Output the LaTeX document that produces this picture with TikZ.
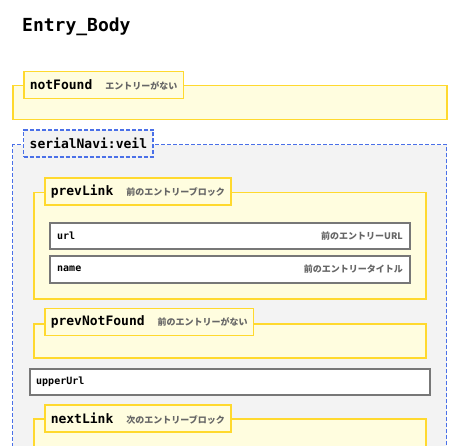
\documentclass[tikz,border=0pt]{standalone}
\usepackage{fontspec}
\setmonofont{DejaVu Sans Mono}
\newfontfamily\cjk{Noto Sans CJK JP}
\definecolor{blockline}{HTML}{FFD92E}
\definecolor{blockfill}{HTML}{FFFDDF}
\definecolor{veilfill}{HTML}{F3F3F3}
\definecolor{veilline}{HTML}{4A70E8}
\definecolor{fieldline}{HTML}{777777}
\definecolor{notegray}{HTML}{666666}
\newcommand{\jpnote}[1]{\hspace{13pt}{\cjk\bfseries\fontsize{9}{9}\selectfont\color{notegray}#1}}

\begin{document}
\begin{tikzpicture}[x=1pt,y=-1pt]
        \tikzstyle{every node}=[font=\ttfamily\bfseries]
        \tikzstyle{block}=[draw=blockline, fill=blockfill, line width=1.5pt, anchor=north west, inner sep=0pt]
        \tikzstyle{veil}=[draw=veilline, fill=veilfill, line width=1.4pt, dash pattern=on 4pt off 2pt, anchor=north west, inner sep=0pt]
        \tikzstyle{tag}=[block, anchor=west, inner xsep=6pt, inner ysep=0pt, minimum height=27pt, font=\ttfamily\bfseries\fontsize{13}{13}\selectfont]
        \tikzstyle{veiltag}=[veil, anchor=west, inner xsep=6pt, inner ysep=0pt, minimum height=27pt, font=\ttfamily\bfseries\fontsize{13}{13}\selectfont]
        \tikzstyle{field}=[draw=fieldline, fill=white, line width=2pt, anchor=north west, inner sep=0pt, minimum height=26pt]
        \tikzstyle{fieldname}=[anchor=west, inner sep=0pt, font=\ttfamily\bfseries\fontsize{10}{10}\selectfont]
        \tikzstyle{fieldnote}=[anchor=east, inner sep=0pt, text=notegray, font=\cjk\bfseries\fontsize{9}{9}\selectfont]

        \useasboundingbox (0,0) rectangle (460,446);
        \clip (0,0) rectangle (460,446);

        \node[anchor=base west, inner sep=0pt, font=\ttfamily\bfseries\fontsize{18}{18}\selectfont] (title) at (22,31.5) {Entry\_Body};

        \node[block, minimum width=434pt, minimum height=34pt] (notFoundBox) at (12,85) {};
        \node[tag] (notFound) at (23,85) {notFound\jpnote{エントリーがない}};

        \node[veil, minimum width=434pt, minimum height=340pt] (veilBox) at (12,144) {};
        \node[veiltag] (veil) at (23,143.5) {serialNavi:veil};

        \node[block, minimum width=392pt, minimum height=106pt] (prevLinkBox) at (33,192) {};
        \node[tag] (prevLink) at (44,191.5) {prevLink\jpnote{前のエントリーブロック}};
        \node[field, minimum width=360pt] (url) at (49,222) {};
        \node[fieldname] (urlName) at ([xshift=8pt]url.west) {url};
        \node[fieldnote] (urlNote) at ([xshift=-8pt]url.east) {前のエントリーURL};
        \node[field, minimum width=360pt, minimum height=27pt] (name) at (49,254.5) {};
        \node[fieldname] (nameName) at ([xshift=8pt]name.west) {name};
        \node[fieldnote] (nameNote) at ([xshift=-8pt]name.east) {前のエントリータイトル};

        \node[block, minimum width=392pt, minimum height=34pt] (prevNotFoundBox) at (33,323) {};
        \node[tag] (prevNotFound) at (44,322) {prevNotFound\jpnote{前のエントリーがない}};

        \node[field, minimum width=400pt] (upperUrl) at (29,368) {};
        \node[fieldname] (upperUrlName) at ([xshift=7pt]upperUrl.west) {upperUrl};

        \node[block, minimum width=392pt, minimum height=60pt] (nextLinkBox) at (33,418) {};
        \node[tag] (nextLink) at (44,418.5) {nextLink\jpnote{次のエントリーブロック}};
\end{tikzpicture}
\end{document}
